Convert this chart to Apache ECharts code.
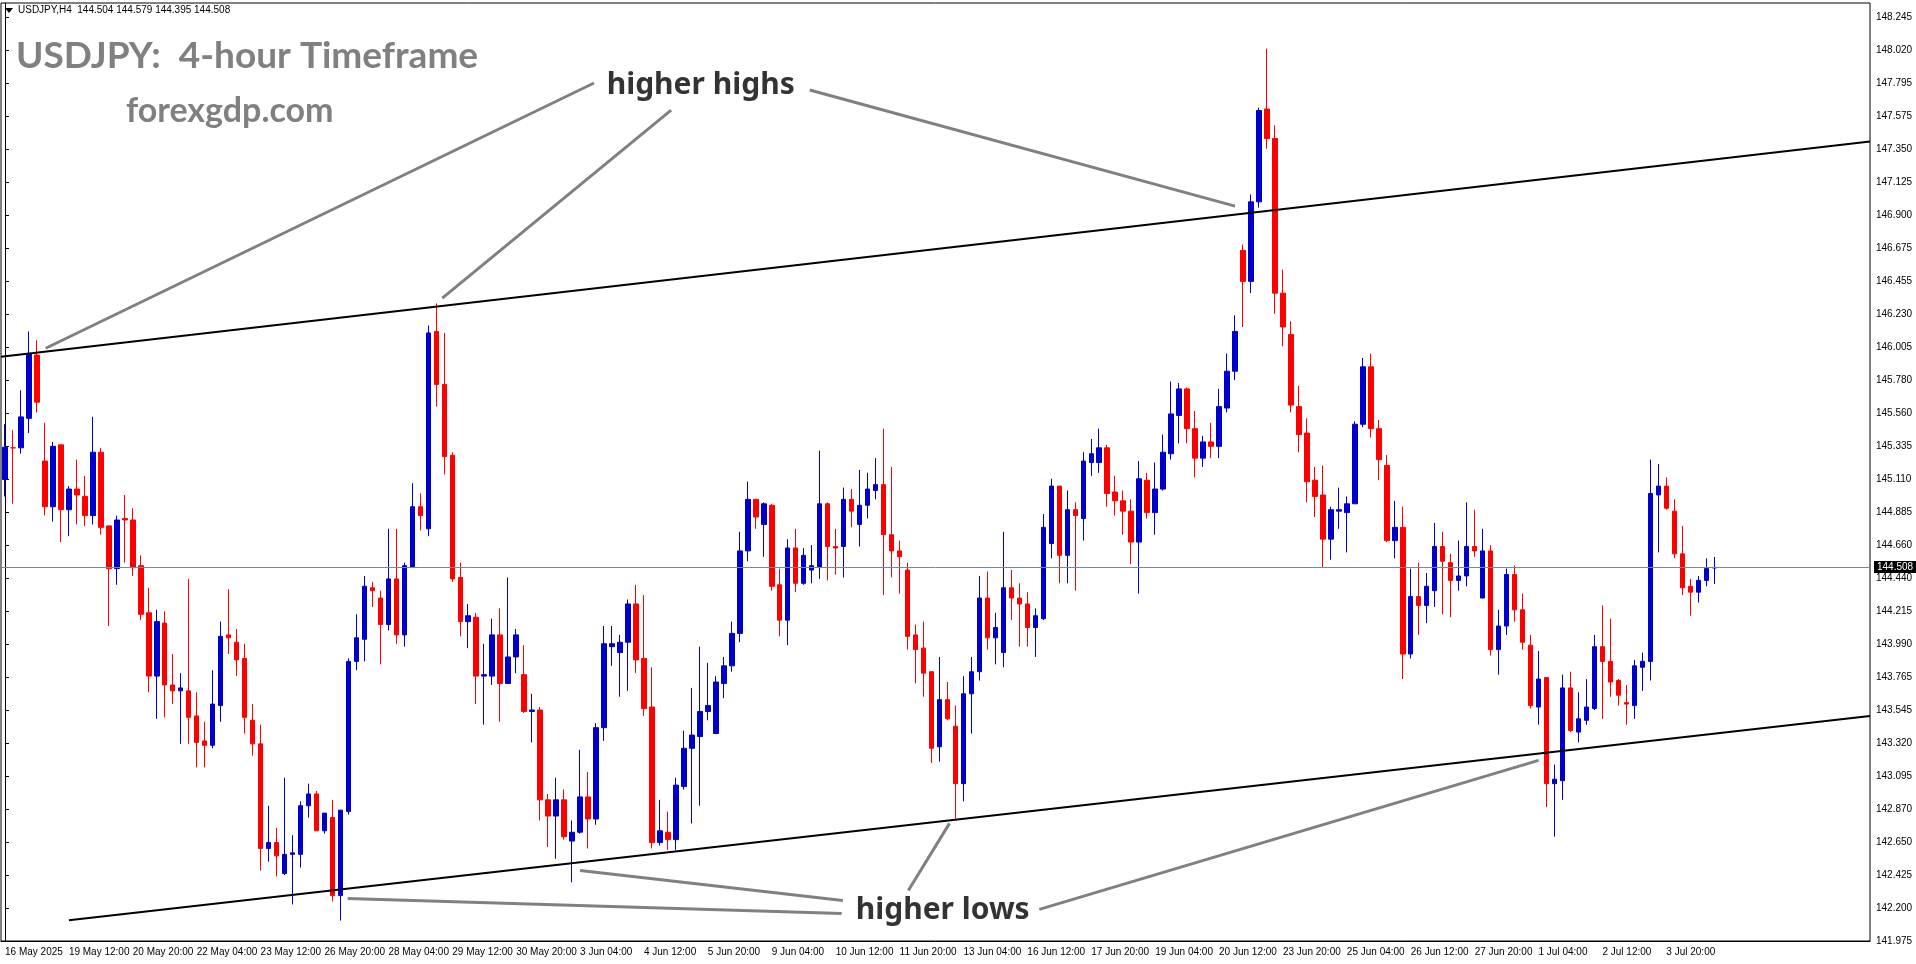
<!DOCTYPE html>
<html><head><meta charset="utf-8">
<script src="https://cdn.jsdelivr.net/npm/echarts@6/dist/echarts.min.js"></script>
<style>html,body{margin:0;padding:0;background:#fff}#c{width:1916px;height:964px}</style>
</head><body><div id="c"></div>
<script>
// ---- data (USDJPY H4) ----
const openV = [145.105,145.32,145.32,145.52,145.95,145.23,144.92,145.34,144.90,145.04,144.99,144.86,145.29,144.79,144.50,144.84,144.83,144.52,144.20,143.77,144.13,143.71,143.67,143.67,143.50,143.33,143.30,143.57,144.05,144.00,
143.89,143.47,143.31,142.60,142.64,142.43,142.56,142.56,142.89,142.97,142.72,142.81,142.28,142.85,143.87,144.02,144.37,144.30,144.12,144.43,144.05,144.51,144.92,144.77,146.11,145.75,145.27,144.44,144.14,144.17,
143.77,143.77,144.05,143.72,143.90,143.78,143.53,143.54,142.93,142.82,142.93,142.65,142.71,142.95,142.80,143.42,143.97,143.93,144.00,144.26,143.89,143.56,142.64,142.71,142.66,143.02,143.28,143.36,143.53,143.38,
143.72,143.84,144.06,144.62,144.97,144.80,144.93,144.39,144.15,144.64,144.40,144.49,144.51,144.94,144.65,144.65,144.97,144.80,144.93,145.03,145.07,144.73,144.62,144.49,144.05,143.96,143.80,143.29,143.61,143.43,
143.04,143.65,143.80,144.30,144.03,143.93,144.37,144.30,144.26,144.10,144.16,144.67,145.06,144.59,144.90,144.84,145.22,145.22,145.32,145.02,144.96,144.89,144.68,145.10,144.88,145.04,145.28,145.54,145.72,145.45,
145.25,145.36,145.33,145.59,145.84,146.66,146.45,146.99,147.62,147.42,146.37,146.09,145.60,145.42,145.10,145.00,144.70,144.89,144.88,144.94,145.48,145.87,145.45,145.20,144.69,144.78,143.92,144.31,144.25,144.35,
144.65,144.54,144.42,144.45,144.65,144.30,144.62,143.95,144.11,144.46,144.22,143.98,143.56,143.76,143.04,143.06,143.69,143.39,143.47,143.55,143.97,143.87,143.74,143.59,143.57,143.83,143.87,145.00,145.06,144.89,
144.60,144.38,144.34,144.42,144.504];
const highV = [145.48,145.44,145.71,146.11,146.05,145.49,145.36,145.34,145.06,145.24,145.13,145.53,145.32,144.79,144.86,145.00,144.91,144.59,144.37,144.22,144.21,143.92,143.79,144.43,143.66,143.46,143.81,144.14,144.36,144.09,
143.99,143.58,143.44,142.89,142.74,143.08,142.69,142.92,143.04,142.99,142.84,142.93,142.86,143.89,144.19,144.45,144.41,144.35,144.77,144.77,144.54,145.08,145.01,146.15,146.30,146.10,145.29,144.54,144.26,144.20,
143.99,144.16,144.23,144.44,144.09,143.98,143.65,143.56,142.97,143.08,143.00,142.79,143.27,143.12,143.45,144.11,144.11,144.05,144.29,144.39,144.32,143.83,142.93,142.85,143.08,143.40,143.69,143.97,143.86,143.77,
143.90,144.14,144.75,145.09,144.97,144.95,144.94,144.50,144.70,144.77,144.64,144.66,145.30,144.95,144.77,145.05,145.04,145.17,145.15,145.25,145.45,145.19,144.69,144.54,144.12,144.14,143.80,143.90,143.73,143.57,
143.77,143.90,144.45,144.48,144.20,144.75,144.49,144.40,144.34,144.23,144.87,145.11,145.06,145.03,144.95,145.29,145.38,145.45,145.34,145.13,145.03,144.97,145.23,145.15,145.22,145.41,145.77,145.76,145.73,145.57,
145.40,145.49,145.72,145.96,146.22,146.70,147.04,147.63,148.03,147.51,146.53,146.18,145.74,145.52,145.19,145.20,144.92,145.05,144.99,145.50,145.93,145.96,145.51,145.27,144.96,144.92,144.50,144.54,144.47,144.81,
144.75,144.60,144.69,144.95,144.90,144.77,144.66,144.22,144.50,144.52,144.33,144.05,143.94,143.76,143.17,143.78,143.80,143.66,143.75,144.05,144.25,144.16,143.75,143.71,143.88,143.93,145.24,145.21,145.12,144.97,
144.79,144.43,144.45,144.57,144.579];
const lowV = [144.99,144.94,145.28,145.42,145.56,144.86,144.82,144.68,144.72,144.80,144.79,144.80,144.73,144.11,144.39,144.54,144.45,144.15,143.66,143.48,143.49,143.58,143.31,143.31,143.15,143.15,143.28,143.46,143.92,143.77,
143.38,143.23,142.45,142.51,142.41,142.42,142.22,142.47,142.81,142.72,142.70,142.24,142.11,142.83,143.81,143.87,144.24,143.85,144.08,143.99,143.97,144.51,144.76,144.72,145.60,145.14,144.41,144.04,143.96,143.58,
143.44,143.71,143.46,143.72,143.79,143.52,143.32,142.79,142.61,142.53,142.66,142.37,142.70,142.60,142.76,143.33,143.84,143.63,143.67,143.79,143.50,142.60,142.62,142.59,142.59,143.00,142.77,142.89,143.47,143.38,
143.62,143.80,144.00,144.55,144.77,144.58,144.35,144.04,143.98,144.34,144.39,144.40,144.43,144.42,144.46,144.44,144.78,144.65,144.84,144.97,144.32,144.44,144.33,143.95,143.72,143.63,143.18,143.19,143.47,142.79,
142.92,143.38,143.74,143.95,143.85,143.83,144.15,143.97,143.97,143.90,144.15,144.57,144.40,144.40,144.35,144.69,145.13,145.15,144.92,144.86,144.73,144.53,144.33,144.84,144.73,145.03,145.24,145.35,145.35,145.12,
145.19,145.25,145.25,145.56,145.78,146.14,146.37,146.95,147.35,146.23,146.01,145.56,145.29,144.95,144.85,144.51,144.56,144.77,144.61,144.94,145.46,145.39,145.10,144.68,144.57,143.75,143.89,144.05,144.13,144.24,
144.19,144.17,144.35,144.38,144.58,144.30,143.91,143.78,144.05,144.14,143.95,143.55,143.44,142.88,142.68,142.93,143.39,143.32,143.44,143.54,143.48,143.63,143.57,143.44,143.48,143.67,143.74,144.61,144.90,144.57,
144.32,144.18,144.27,144.38,144.395];
const closeV = [145.324,145.32,145.53,145.96,145.63,144.92,145.33,144.90,145.04,145.00,144.86,145.29,144.78,144.50,144.83,144.83,144.51,144.19,143.77,144.14,143.71,143.67,143.69,143.49,143.32,143.30,143.58,144.04,144.03,143.88,
143.49,143.31,142.60,142.64,142.55,142.56,142.57,142.89,142.97,142.72,142.84,142.28,142.86,143.87,144.03,144.38,144.35,144.12,144.43,144.05,144.52,144.92,144.86,146.10,145.75,145.26,144.43,144.14,144.18,143.77,
143.78,144.05,143.72,143.90,144.05,143.53,143.54,142.93,142.82,142.93,142.68,142.71,142.95,142.80,143.42,143.99,143.99,144.00,144.26,143.88,143.55,142.64,142.72,142.66,143.03,143.28,143.37,143.53,143.57,143.73,
143.84,144.06,144.62,144.97,144.85,144.94,144.38,144.15,144.64,144.40,144.59,144.52,144.94,144.65,144.64,144.97,144.89,144.93,145.04,145.07,144.73,144.62,144.58,144.04,143.95,143.79,143.28,143.61,143.48,143.04,
143.65,143.80,144.30,144.03,144.10,144.37,144.30,144.26,144.10,144.18,144.78,145.06,144.59,144.90,144.86,145.23,145.28,145.32,145.01,144.96,144.89,144.68,145.11,144.88,145.04,145.29,145.55,145.72,145.45,145.25,
145.36,145.33,145.60,145.84,146.11,146.45,146.99,147.61,147.42,146.37,146.14,145.61,145.41,145.09,144.99,144.70,144.90,144.90,144.94,145.48,145.87,145.45,145.24,144.69,144.78,143.92,144.31,144.25,144.38,144.65,
144.55,144.42,144.45,144.65,144.62,144.62,143.95,144.11,144.46,144.22,144.00,143.57,143.75,143.04,143.07,143.69,143.40,143.48,143.56,143.97,143.87,143.73,143.64,143.58,143.84,143.87,145.01,145.06,144.91,144.60,
144.37,144.34,144.42,144.50,144.508];
const xTickLabels = ['16 May 2025','19 May 12:00','20 May 20:00','22 May 04:00','23 May 12:00','26 May 20:00','28 May 04:00','29 May 12:00','30 May 20:00','3 Jun 04:00','4 Jun 12:00','5 Jun 20:00','9 Jun 04:00','10 Jun 12:00','11 Jun 20:00','13 Jun 04:00','16 Jun 12:00','17 Jun 20:00','19 Jun 04:00','20 Jun 12:00','23 Jun 20:00','25 Jun 04:00','26 Jun 12:00','27 Jun 20:00','1 Jul 04:00','2 Jul 12:00','3 Jul 20:00'];
const yTickLabels = ['141.975','142.200','142.425','142.650','142.870','143.095','143.320','143.545','143.765','143.990','144.215','144.440','144.660','144.885','145.110','145.335','145.560','145.780','146.005','146.230','146.455','146.675','146.900','147.125','147.350','147.575','147.795','148.020','148.245'];
const bidPrice = 144.508;
// channel lines: [candle index, price]
const upperLine = [[-0.5,145.939],[233.5,147.400]];
const lowerLine = [[8,142.112],[233.5,143.500]];
// annotation pointers: [candle index, price]
const highsPointers = [[[73.75,147.797],[5.1,145.996]],[[83.4,147.613],[54.75,146.336]],[[100.75,147.749],[154,146.961]]];
const lowsPointers = [[[104.75,142.158],[42.9,142.26]],[[104.9,142.247],[72,142.451]],[[113.1,142.315],[118.25,142.77]],[[129.5,142.186],[192,143.198]]];
const highsLabel = [87.1,147.78];
const lowsLabel = [117.4,142.18];

const slots = 234;
const yInterval = 0.22393;
const yMin = 634 * yInterval;
const yMax = 148.34;

const cats = [];
for (let i = 0; i < slots; i++) cats.push(i % 8 === 0 && i / 8 < xTickLabels.length ? xTickLabels[i / 8] : '');
const candles = openV.map((o, i) => [o, closeV[i], lowV[i], highV[i]]);

const series = [{
  type: 'candlestick', data: candles, barWidth: 5,
  itemStyle: {color: '#0000cd', color0: '#ff0000', borderColor: '#0000cd', borderColor0: '#ff0000', borderWidth: 1},
  markLine: {silent: true, symbol: 'none', animation: false,
    lineStyle: {color: '#778899', width: 1, type: 'solid'},
    label: {position: 'end', formatter: bidPrice.toFixed(3), color: '#fff', backgroundColor: '#000', padding: [1, 3], fontSize: 10, fontFamily: 'Liberation Sans', distance: 4},
    data: [{yAxis: bidPrice}]}
}];
function seg(pts, color, width) {
  series.push({type: 'line', xAxisIndex: 1, data: pts, symbol: 'none', silent: true, animation: false,
    lineStyle: {color: color, width: width}, z: 5});
}
seg(upperLine, '#000', 2);
seg(lowerLine, '#000', 2);
highsPointers.forEach(p => seg(p, '#808080', 3));
lowsPointers.forEach(p => seg(p, '#808080', 3));
function txt(p, s) {
  series.push({type: 'scatter', xAxisIndex: 1, data: [p], symbolSize: 0, silent: true, z: 10, animation: false,
    label: {show: true, formatter: s, position: 'inside', color: '#000', fontSize: 30, fontWeight: 'bold', fontFamily: 'Noto Sans', backgroundColor: '#fff', padding: [0, 4]}});
}
txt(highsLabel, 'higher highs');
txt(lowsLabel, 'higher lows');

const chart = echarts.init(document.getElementById('c'));
chart.setOption({
  animation: false,
  backgroundColor: '#fff',
  grid: {left: 1, right: 46, top: 3, bottom: 23, show: true, borderColor: '#000', borderWidth: 1},
  xAxis: [{
    type: 'category', data: cats, boundaryGap: true,
    axisLine: {lineStyle: {color: '#000'}},
    axisTick: {interval: (i) => i % 8 === 0 && i / 8 < xTickLabels.length, length: 4, lineStyle: {color: '#000'}, inside: false},
    axisLabel: {interval: 0, align: 'left', margin: 6, color: '#000', fontSize: 10, fontFamily: 'Liberation Sans'},
    splitLine: {show: false}
  }, {type: 'value', min: -0.5, max: slots - 0.5, show: false}],
  yAxis: {
    type: 'value', position: 'right', min: yMin, max: yMax, interval: yInterval, scale: true,
    axisLine: {show: true, lineStyle: {color: '#000'}},
    axisTick: {show: true, length: 4, lineStyle: {color: '#000'}},
    axisLabel: {color: '#000', fontSize: 10, fontFamily: 'Liberation Sans', margin: 6, showMaxLabel: false,
      formatter: v => { const k = Math.round((v - yMin) / yInterval); return yTickLabels[k] || ''; }},
    splitLine: {show: false}
  },
  graphic: [
    {type: 'polygon', shape: {points: [[5, 8], [13, 8], [9, 13]]}, style: {fill: '#000'}},
    {type: 'text', left: 18, top: 5, style: {text: 'USDJPY,H4  144.504 144.579 144.395 144.508', fontSize: 10, fontFamily: 'Liberation Sans', fill: '#000'}},
    {type: 'text', left: 16, top: 38, style: {text: 'USDJPY:  4-hour Timeframe', fontSize: 37, fontWeight: 'bold', fontFamily: 'Lato', fill: '#808080'}},
    {type: 'text', left: 126, top: 94, style: {text: 'forexgdp.com', fontSize: 34, fontWeight: 'bold', fontFamily: 'Lato', fill: '#808080'}}
  ],
  series: series
});
</script></body></html>
